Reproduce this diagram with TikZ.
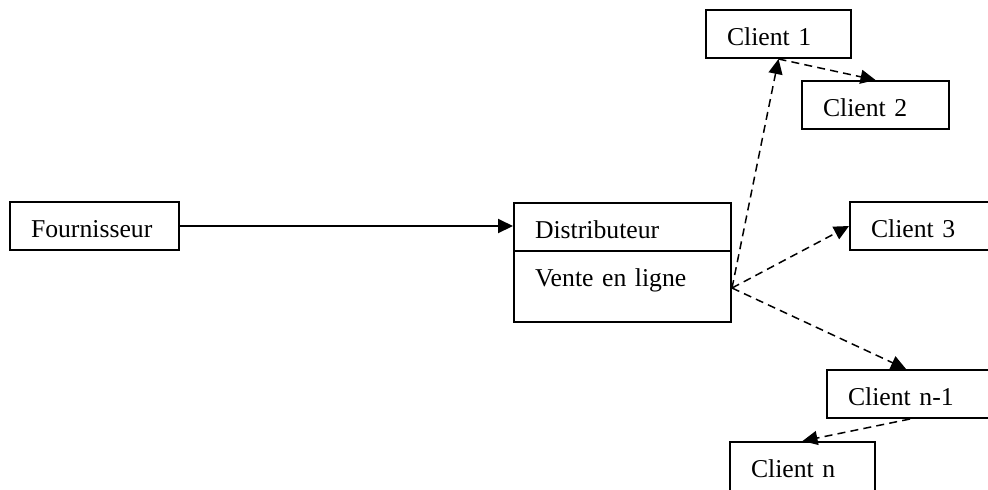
\documentclass[tikz,border=0pt]{standalone}
\usepackage{fontspec}
\setmainfont{Liberation Serif}
\usetikzlibrary{arrows.meta,calc}
\tikzset{
  box/.style={draw, line width=1pt, inner xsep=10.5pt, inner ysep=0pt,
    text height=17.5pt, text depth=6.5pt, anchor=north west, align=left,
    font=\fontsize{12.85}{15}\selectfont},
  solidarrow/.style={line width=1pt, -{Triangle[length=7.5pt,width=7pt]}},
  dasharrow/.style={line width=0.75pt, dash pattern=on 4pt off 2.6pt, -{Triangle[length=7.5pt,width=7pt]}}
}
\begin{document}
\begin{tikzpicture}[x=0.5pt,y=-0.5pt]
\path[use as bounding box] (0,0) rectangle (988,489);
\clip (0,0) rectangle (988,489);
\node[box, text width=63.5pt] (four) at (9,201) {Fournisseur};
\node[box, text width=87.5pt] (dist) at (513,202) {Distributeur};
\node[box, text width=87.5pt, text depth=18pt] (vente) at (513,250) {Vente en ligne};
\node[box, text width=51.5pt] (c1) at (705,9) {Client 1};
\node[box, text width=52.5pt] (c2) at (801,80) {Client 2};
\node[box, text width=54.5pt] (c3) at (849,201) {Client 3};
\node[box, text width=66pt] (cn1) at (826,369) {Client n-1};
\node[box, text width=51.5pt, text depth=12pt] (cn) at (729,441) {Client n};
\coordinate (fan) at ($(vente.east)+(0,1.5)$);
\coordinate (cn1top) at ($(cn1.north west)+(80,0)$);
\coordinate (cn1bot) at ($(cn1.south west)+(84,0)$);
\draw[solidarrow] (four.east) -- (dist.west |- four.east);
\draw[dasharrow] (fan) -- (c1.south);
\draw[dasharrow] (c1.south) -- (c2.north);
\draw[dasharrow] (fan) -- (c3.west);
\draw[dasharrow] (fan) -- (cn1top);
\draw[dasharrow] (cn1bot) -- (cn.north);
\end{tikzpicture}
\end{document}
